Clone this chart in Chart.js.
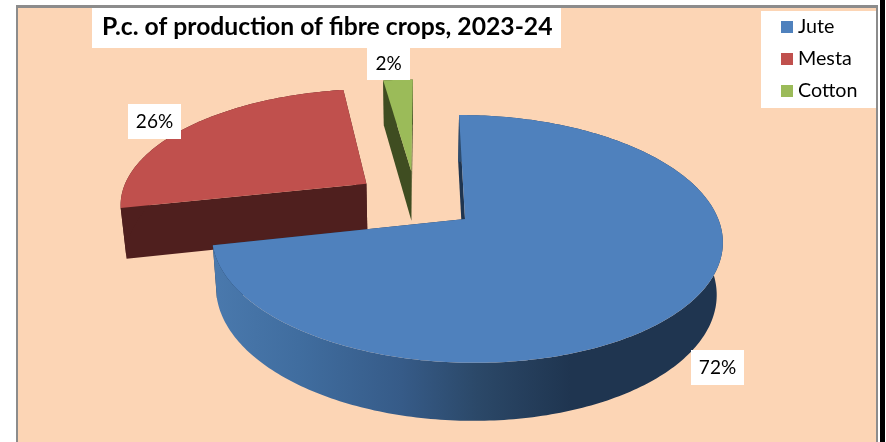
<!DOCTYPE html>
<html>
<head>
<meta charset="utf-8">
<script src="https://cdn.jsdelivr.net/npm/chart.js@4"></script>
<style>
  html, body { margin: 0; padding: 0; background: #fff; overflow: hidden; }
  canvas { display: block; }
</style>
</head>
<body>
<canvas id="pieChart" width="886" height="442"></canvas>
<script>
// chart values, labels on the chart are rounded
var crops = ["Jute", "Mesta", "Cotton"];
var share = [71.6, 26.1, 2.3];
var chartTitle = "P.c. of production of fibre crops, 2023-24";

// colours, same order as crops
var topColors = ["#4f81bd", "#c0504d", "#9bbb59"];
var sideColors = ["#1f3550", "#4f1f1e", "#3f4d21"];

// how far each slice is pulled out, in pie radii
var pullX = [0, -0.403, -0.216];
var pullY = [0, -0.306, -0.42];
// the far red slice looks a bit wider than the plane alone gives
var stretch = [1, 1.014, 1];

// white label boxes [x, y, w, h]
var labelBoxes = [[691, 350, 53, 35], [128, 104, 53, 35], [367, 48, 43, 32]];

// the tilted pie plane, a projective map from pie radii to pixels
var view = { cx: 465, cy: 219, a: 252, b: 6.9, c: 0, d: 120.7, g: -0.161, h: -0.005 };

function project(u, v) {
  var w = 1 + view.g * v + view.h * u;
  return [view.cx + (view.a * u + view.b * v) / w, view.cy + (view.c * u + view.d * v) / w];
}

// same point on the underside of the pie
function drop(p) {
  return [p[0] + (415 - p[0]) * 0.02, p[1] + 41.3 + p[1] * 0.046];
}

function fillPoly(ctx, pts, fill) {
  ctx.beginPath();
  pts.forEach(function(p, i) {
    if (i == 0) ctx.moveTo(p[0], p[1]);
    else ctx.lineTo(p[0], p[1]);
  });
  ctx.closePath();
  ctx.fillStyle = fill;
  ctx.fill();
}

function drawSlice(ctx, arc, i) {
  var apex = project(pullX[i], pullY[i]);
  var rim = [];
  var steps = Math.max(4, Math.ceil((arc.endAngle - arc.startAngle) * 60));
  for (var s = 0; s <= steps; s++) {
    var t = arc.startAngle + (arc.endAngle - arc.startAngle) * s / steps;
    rim.push(project(pullX[i] + stretch[i] * Math.cos(t), pullY[i] + Math.sin(t)));
  }
  var under = rim.map(drop).reverse();

  // flat cut faces
  var first = rim[0], last = rim[rim.length - 1];
  fillPoly(ctx, [apex, last, drop(last), drop(apex)], sideColors[i]);
  fillPoly(ctx, [apex, first, drop(first), drop(apex)], sideColors[i]);

  // rim of the big slice gets darker from left to right
  var rimFill = sideColors[i];
  if (i == 0) {
    rimFill = ctx.createLinearGradient(212, 0, 724, 0);
    rimFill.addColorStop(0, "#4a79ad");
    rimFill.addColorStop(0.17, "#406d9f");
    rimFill.addColorStop(0.37, "#365b88");
    rimFill.addColorStop(0.52, "#2b4868");
    rimFill.addColorStop(0.7, "#1f3550");
    rimFill.addColorStop(1, "#1f3550");
  }
  fillPoly(ctx, rim.concat(under), rimFill);

  // top of the slice
  fillPoly(ctx, [apex].concat(rim), topColors[i]);
}

var pie3d = {
  id: "pie3d",
  beforeDraw: function(chart) {
    var ctx = chart.ctx;
    ctx.save();
    // frame and background
    ctx.fillStyle = "#8c8c8c";
    ctx.fillRect(16, 5, 862, 437);
    ctx.fillStyle = "#fcd5b5";
    ctx.fillRect(18, 8, 858, 434);
    ctx.fillStyle = "#000000";
    ctx.fillRect(880, 0, 5, 442);
    // title and legend backgrounds
    ctx.fillStyle = "#ffffff";
    ctx.fillRect(92, 8, 469, 40);
    ctx.fillRect(761, 11, 115, 97);
    ctx.restore();
  },
  beforeDatasetDraw: function(chart, args) {
    var ctx = chart.ctx;
    var arcs = chart.getDatasetMeta(args.index).data;
    ctx.save();
    // back slices first, the big one overlaps them
    [1, 2, 0].forEach(function(i) { drawSlice(ctx, arcs[i], i); });
    ctx.restore();
    return false;
  },
  afterDraw: function(chart) {
    var ctx = chart.ctx;
    ctx.save();
    ctx.textBaseline = "middle";
    // percentage labels
    ctx.font = "19px Lato";
    share.forEach(function(v, i) {
      var b = labelBoxes[i];
      ctx.fillStyle = "#ffffff";
      ctx.fillRect(b[0], b[1], b[2], b[3]);
      ctx.fillStyle = "#000000";
      ctx.textAlign = "center";
      ctx.fillText(Math.round(v) + "%", b[0] + b[2] / 2, b[1] + b[3] / 2);
    });
    // legend
    ctx.font = "19.7px Lato";
    ctx.textAlign = "left";
    crops.forEach(function(name, i) {
      ctx.fillStyle = topColors[i];
      ctx.fillRect(781, 21 + i * 32, 12, 12);
      ctx.fillStyle = "#000000";
      ctx.fillText(name, 798, 27 + i * 32);
    });
    ctx.restore();
  }
};

var config = {
  type: "pie",
  data: {
    labels: crops,
    datasets: [{ data: share, backgroundColor: topColors, borderWidth: 0 }]
  },
  options: {
    responsive: false,
    animation: false,
    layout: { padding: { left: 102, top: 12 } },
    plugins: {
      legend: { display: false },
      tooltip: { enabled: false },
      title: {
        display: true,
        text: chartTitle,
        align: "start",
        color: "#000000",
        padding: 0,
        font: { family: "Lato", size: 24.7, weight: "bold" }
      }
    }
  },
  plugins: [pie3d]
};

var ctx = document.getElementById("pieChart");
var charts = new Chart(ctx, config);
</script>
</body>
</html>
